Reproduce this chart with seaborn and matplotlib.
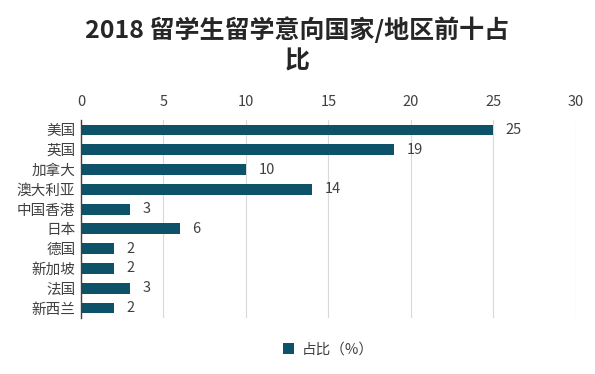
import matplotlib
matplotlib.use("Agg")
import matplotlib.pyplot as plt
import seaborn as sns
import pandas as pd

countries = ["美国", "英国", "加拿大", "澳大利亚", "中国香港", "日本", "德国", "新加坡", "法国", "新西兰"]
shares = [25, 19, 10, 14, 3, 6, 2, 2, 3, 2]
x_ticks = [0, 5, 10, 15, 20, 25, 30]

sns.set_style("white")
plt.rcParams["font.family"] = ["Noto Sans CJK SC", "DejaVu Sans"]

df = pd.DataFrame({"country": countries, "share": shares})
bar_color = "#0d5269"

fig = plt.figure(figsize=(5.95, 3.74), dpi=100)
ax = fig.add_axes([0.136, 0.150, 0.832, 0.529])

sns.barplot(data=df, x="share", y="country", orient="h", color=bar_color,
            width=0.55, saturation=1, linewidth=0, ax=ax, label="占比（%）")

ax.set_xlim(0, 30)
ax.set_xticks(x_ticks)
ax.xaxis.tick_top()
ax.tick_params(axis="x", length=0, labelsize=10.5, colors="#404040", pad=8)
ax.tick_params(axis="y", length=0, labelsize=10.5, colors="#404040", pad=4)
ax.set_xlabel("")
ax.set_ylabel("")
ax.grid(axis="x", color="#d9d9d9", linewidth=0.8)
ax.set_axisbelow(True)
for side in ["top", "right", "bottom"]:
    ax.spines[side].set_visible(False)
ax.spines["left"].set_color("#404040")
ax.spines["left"].set_linewidth(1.0)

for i, v in enumerate(shares):
    ax.text(v + 0.75, i, str(v), va="center", ha="left", fontsize=10.5, color="#404040")

fig.text(0.5, 0.88, "2018 留学生留学意向国家/地区前十占\n比", ha="center", va="center",
         fontsize=18, fontweight="bold", color="#262626", linespacing=1.3)

leg = ax.legend(loc="center", bbox_to_anchor=(0.5, -0.16), frameon=False,
                fontsize=10.5, handlelength=0.75, handleheight=0.75, handletextpad=0.5)
for t in leg.get_texts():
    t.set_color("#404040")

fig.savefig("out.png", dpi=100)
